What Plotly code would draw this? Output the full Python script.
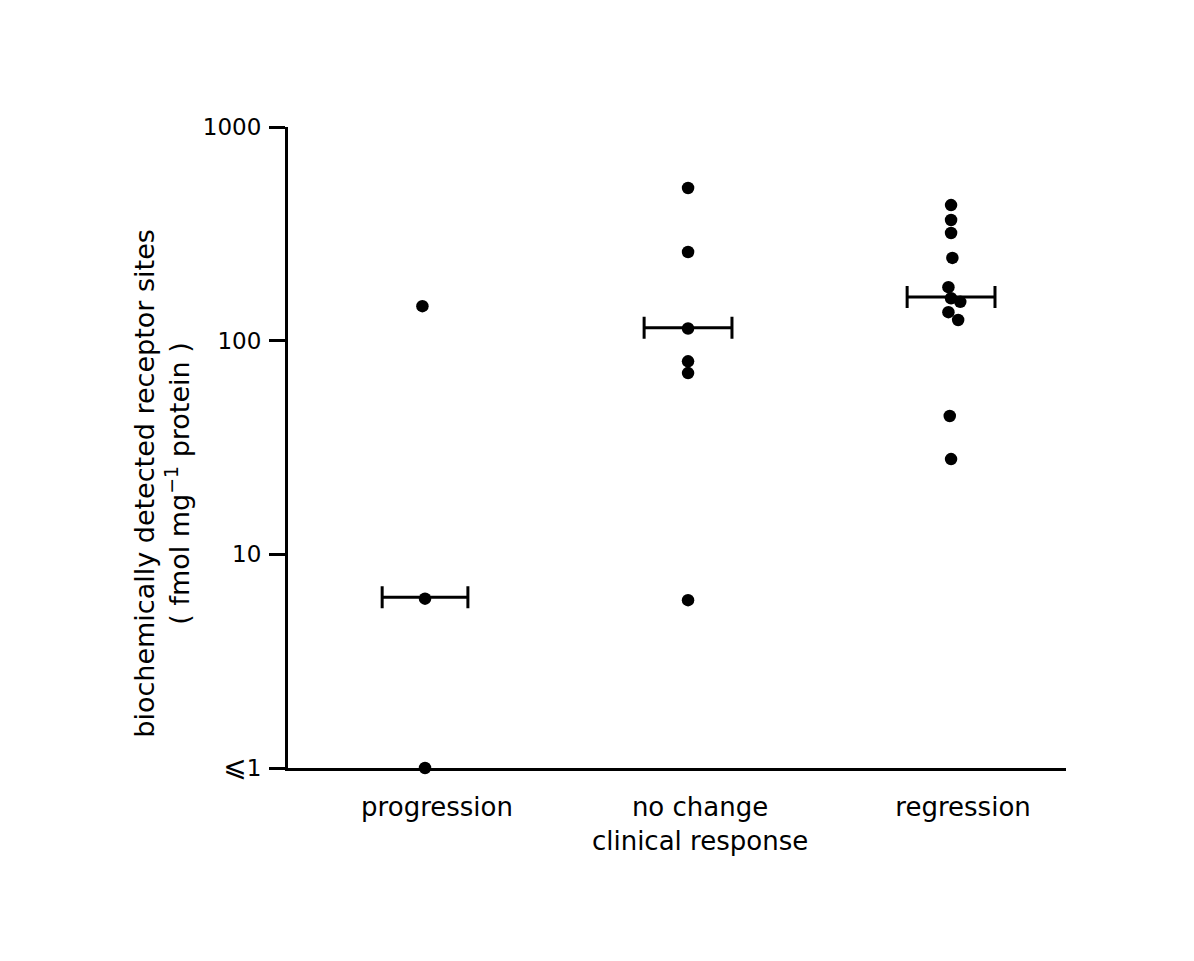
import plotly.graph_objects as go

# ---- data ----
categories = ["progression", "no change<br>clinical response", "regression"]
progression_vals = [145, 6.2, 1.0]
progression_jit = [-0.01, 0.0, 0.0]
nochange_vals = [518, 260, 114, 80, 70.5, 6.1]
nochange_jit = [0.0, 0.0, 0.0, 0.0, 0.0, 0.0]
regression_vals = [431, 367, 319, 244, 178, 158, 152, 136, 125, 44.4, 27.9]
regression_jit = [0.0, 0.0, 0.0, 0.005, -0.01, 0.0, 0.035, -0.01, 0.027, -0.005, 0.0]
medians = [6.3, 115, 160]
median_halfwidth = [0.163, 0.167, 0.167]
y_tickvals = [1, 10, 100, 1000]
y_ticktext = ["<span style='font-size:28px'>⩽</span>1", "10", "100", "1000"]

FONT = "DejaVu Sans"
fig = go.Figure()

groups = [(1, progression_vals, progression_jit),
          (2, nochange_vals, nochange_jit),
          (3, regression_vals, regression_jit)]
for pos, vals, jit in groups:
    fig.add_trace(go.Scatter(
        x=[pos + j for j in jit], y=vals, mode="markers",
        marker=dict(color="black", size=12.5, line=dict(width=0)),
        showlegend=False, cliponaxis=False))

fig.add_trace(go.Scatter(
    x=[1, 2, 3], y=medians, mode="markers",
    marker=dict(color="rgba(0,0,0,0)", size=1),
    error_x=dict(type="data", array=median_halfwidth, symmetric=True,
                 color="black", thickness=3, width=11),
    showlegend=False, cliponaxis=False))

fig.update_layout(
    width=1194, height=961,
    margin=dict(l=288, r=128, t=127, b=193),
    paper_bgcolor="white", plot_bgcolor="white",
    font=dict(family=FONT, size=22, color="black"),
    xaxis=dict(range=[0.479, 3.437], tickvals=[1, 2, 3], ticktext=categories,
               showgrid=False, zeroline=False, showline=True, linecolor="black",
               linewidth=3, ticks="", ticklabelstandoff=14, ticklabelshift=12,
               tickfont=dict(family=FONT, size=26)),
    yaxis=dict(type="log", range=[0, 3], tickvals=y_tickvals, ticktext=y_ticktext,
               showgrid=False, zeroline=False, showline=True, linecolor="black",
               linewidth=3, ticks="outside", ticklen=16, tickwidth=2.5,
               tickcolor="black", ticklabelstandoff=3,
               tickfont=dict(family=FONT, size=23)),
    annotations=[dict(
        text="biochemically detected receptor sites<br>( fmol mg<sup>−1</sup> protein )",
        xref="paper", yref="paper", x=-0.162, y=0.445, xanchor="center", yanchor="middle",
        textangle=-90, showarrow=False, font=dict(family=FONT, size=27))],
)

fig.write_html("out.html")
